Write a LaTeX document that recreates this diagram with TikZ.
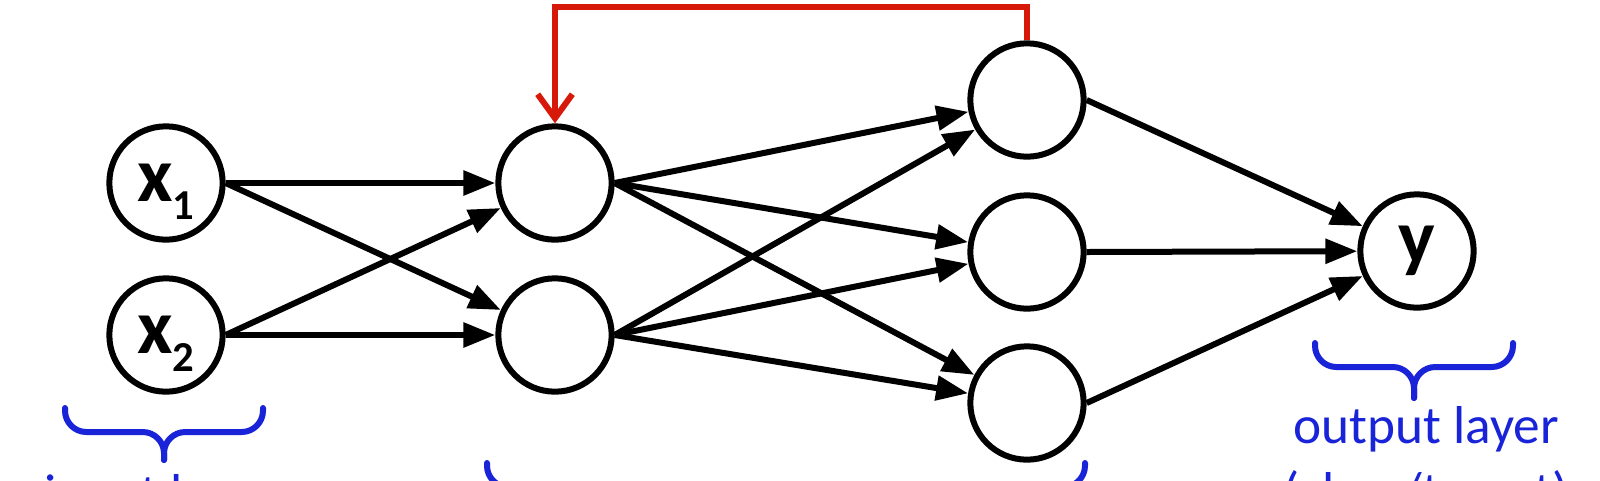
\documentclass[tikz,border=0pt]{standalone}
\usepackage{fontspec}
\setmainfont{Carlito}
\usetikzlibrary{arrows.meta}

\definecolor{layerblue}{RGB}{25,35,215}
\definecolor{loopred}{RGB}{215,25,10}

\tikzset{
  neuron/.style={draw, circle, fill=white, minimum size=85pt, inner sep=0pt,
                 font=\fontsize{58}{58}\selectfont\bfseries},
  link/.style={-{Triangle[length=24pt,width=18pt]}},
  feedback/.style={draw=loopred, -{Straight Barb[length=18pt,width=26pt]}},
  layerbrace/.style={draw=layerblue, rounded corners=16pt, line cap=round},
  layertext/.style={text=layerblue, font=\fontsize{40}{48}\selectfont, anchor=base}
}
\newcommand{\sub}[1]{\raisebox{-13pt}[0pt][0pt]{\fontsize{32}{32}\selectfont #1}}

\begin{document}
\begin{tikzpicture}[x=0.75pt,y=0.75pt,yscale=-1,xscale=1,line width=4.5pt]
    \useasboundingbox (0,0) rectangle (1600,480);

    %Shape: Circle input neurons
    \node [neuron] (x1) at ( 166, 183) {x\sub{1}};
    \node [neuron] (x2) at ( 166, 335) {x\sub{2}};

    %Shape: Circle first hidden layer
    \node [neuron] (h1a) at ( 555, 183) {};
    \node [neuron] (h1b) at ( 555, 335) {};

    %Shape: Circle second hidden layer
    \node [neuron] (h2a) at (1027, 100) {};
    \node [neuron] (h2b) at (1027, 252) {};
    \node [neuron] (h2c) at (1027, 403) {};

    %Shape: Circle output neuron
    \node [neuron] (y) at (1417, 251) {y};

    %Arrows: input -> hidden 1
    \draw [link] (x1.east) -- (h1a);
    \draw [link] (x1.east) -- (h1b);
    \draw [link] (x2.east) -- (h1a);
    \draw [link] (x2.east) -- (h1b);

    %Arrows: hidden 1 -> hidden 2
    \draw [link] (h1a.east) -- (h2a);
    \draw [link] (h1a.east) -- (h2b);
    \draw [link] (h1a.east) -- (h2c);
    \draw [link] (h1b.east) -- (h2a);
    \draw [link] (h1b.east) -- (h2b);
    \draw [link] (h1b.east) -- (h2c);

    %Arrows: hidden 2 -> output
    \draw [link] (h2a.east) -- (y);
    \draw [link] (h2b.east) -- (y);
    \draw [link] (h2c.east) -- (y);

    %Arrow: recurrent loop
    \coordinate (looptop) at (790, 7);
    \draw [feedback] (h2a.north) |- (looptop) -| (h1a.north);

    %Shape: Brace input layer
    \draw [layerbrace] (  65, 408) |- ( 164, 432) -- ( 164, 460);
    \draw [layerbrace] ( 263, 408) |- ( 164, 432) -- ( 164, 460);

    %Shape: Brace hidden layers
    \draw [layerbrace] ( 487, 463) |- ( 786, 487) -- ( 786, 515);
    \draw [layerbrace] (1085, 463) |- ( 786, 487) -- ( 786, 515);

    %Shape: Brace output layer
    \draw [layerbrace] (1315, 343) |- (1414, 367) -- (1414, 398);
    \draw [layerbrace] (1513, 343) |- (1414, 367) -- (1414, 398);

    %Text: layer names
    \node [layertext] (outtext) at (1426, 443) {output layer};
    \node [layertext] (classtext) at (1426, 509) {(class/target)};
    \node [layertext] (intext) at ( 160, 511) {input layer};
\end{tikzpicture}
\end{document}
